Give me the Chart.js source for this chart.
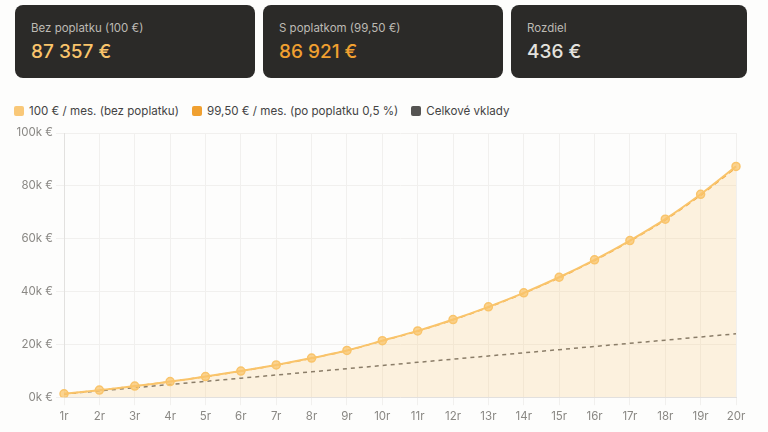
<!DOCTYPE html>
<html>
<head>
<meta charset="utf-8">
<script src="https://cdn.jsdelivr.net/npm/chart.js@4.4.1/dist/chart.umd.min.js"></script>
<style>
  html, body { margin: 0; padding: 0; background: #fdfdfc; }
  body { width: 768px; height: 432px; position: relative; overflow: hidden; font-family: "Inter", "Noto Sans", sans-serif; }
  .card { position: absolute; top: 5px; height: 73px; background: #2b2a28; border-radius: 8px; box-sizing: border-box; padding: 16px 16px 0 16px; }
  .card .label { font-size: 11.5px; color: #bdbab4; }
  .card .value { font-size: 19px; font-weight: 500; margin-top: 5px; }
  .legend { position: absolute; top: 104px; left: 14px; font-size: 11.6px; color: #444; display: flex; gap: 13px; }
  .legend span { display: inline-flex; align-items: center; }
  .legend i { display: inline-block; width: 10px; height: 10px; border-radius: 2px; margin-right: 5px; }
  #wrap { position: absolute; left: 0; top: 122px; width: 768px; height: 305px; }
</style>
</head>
<body>
<div class="card" style="left:15px;width:240px"><div class="label">Bez poplatku (100 €)</div><div class="value" style="color:#f9c46b">87 357 €</div></div>
<div class="card" style="left:263px;width:240px"><div class="label">S poplatkom (99,50 €)</div><div class="value" style="color:#f0a030">86 921 €</div></div>
<div class="card" style="left:511px;width:236px"><div class="label">Rozdiel</div><div class="value" style="color:#e4e2de">436 €</div></div>

<div class="legend">
  <span><i style="background:#f9c878"></i>100 € / mes. (bez poplatku)</span>
  <span><i style="background:#f0a030"></i>99,50 € / mes. (po poplatku 0,5 %)</span>
  <span><i style="background:#555452"></i>Celkové vklady</span>
</div>

<div id="wrap"><canvas id="chart"></canvas></div>

<script>
// years on the x axis
const years = ["1r", "2r", "3r", "4r", "5r", "6r", "7r", "8r", "9r", "10r",
  "11r", "12r", "13r", "14r", "15r", "16r", "17r", "18r", "19r", "20r"];

// portfolio value, 100 € per month, no fee
const noFee = [1270, 2680, 4200, 5900, 7800, 9900, 12200, 14800, 17700, 21400,
  25100, 29400, 34200, 39500, 45400, 52000, 59300, 67400, 76800, 87357];

// portfolio value, 99,50 € per month after 0,5 % fee
const withFee = [1264, 2667, 4179, 5870, 7761, 9850, 12139, 14726, 17611, 21293,
  24975, 29253, 34029, 39302, 45173, 51740, 59003, 67063, 76416, 86921];

// total deposits
const deposits = [1200, 2400, 3600, 4800, 6000, 7200, 8400, 9600, 10800, 12000,
  13200, 14400, 15600, 16800, 18000, 19200, 20400, 21600, 22800, 24000];

const yTicks = [0, 20000, 40000, 60000, 80000, 100000];

new Chart(document.getElementById("chart"), {
  type: "line",
  data: {
    labels: years,
    datasets: [
      {
        label: "100 € / mes. (bez poplatku)",
        data: noFee,
        borderColor: "#f9c46b",
        backgroundColor: "rgba(249,200,120,0.22)",
        fill: "origin",
        borderWidth: 2,
        pointRadius: 4,
        pointBackgroundColor: "rgba(249,196,107,0.75)",
        pointBorderColor: "#f9c46b",
        pointBorderWidth: 1.5,
        tension: 0.2,
      },
      {
        label: "99,50 € / mes. (po poplatku 0,5 %)",
        data: withFee,
        borderColor: "#f0a030",
        borderDash: [5, 4],
        borderWidth: 1.5,
        fill: false,
        pointRadius: 0,
        tension: 0.2,
      },
      {
        label: "Celkové vklady",
        data: deposits,
        borderColor: "#6b6864",
        borderDash: [4, 4],
        borderWidth: 1.5,
        fill: false,
        pointRadius: 0,
      },
    ],
  },
  options: {
    responsive: true,
    maintainAspectRatio: false,
    animation: false,
    layout: { padding: { top: 11, right: 32, bottom: 0, left: 0 } },
    plugins: { legend: { display: false }, tooltip: { enabled: false } },
    scales: {
      x: {
        grid: { color: "#f1f0ee" },
        border: { color: "#e2e1df" },
        ticks: { color: "#8a8884", font: { family: "Inter", size: 11.5 }, padding: 4 },
      },
      y: {
        min: 0,
        max: 100000,
        afterFit: (axis) => { axis.width = 64; },
        afterBuildTicks: (axis) => { axis.ticks = yTicks.map((v) => ({ value: v })); },
        grid: { color: "#f1f0ee" },
        border: { color: "#e2e1df" },
        ticks: {
          color: "#8a8884",
          font: { family: "Inter", size: 11.5 },
          callback: (v) => v / 1000 + "k €",
        },
      },
    },
  },
});
</script>
</body>
</html>
